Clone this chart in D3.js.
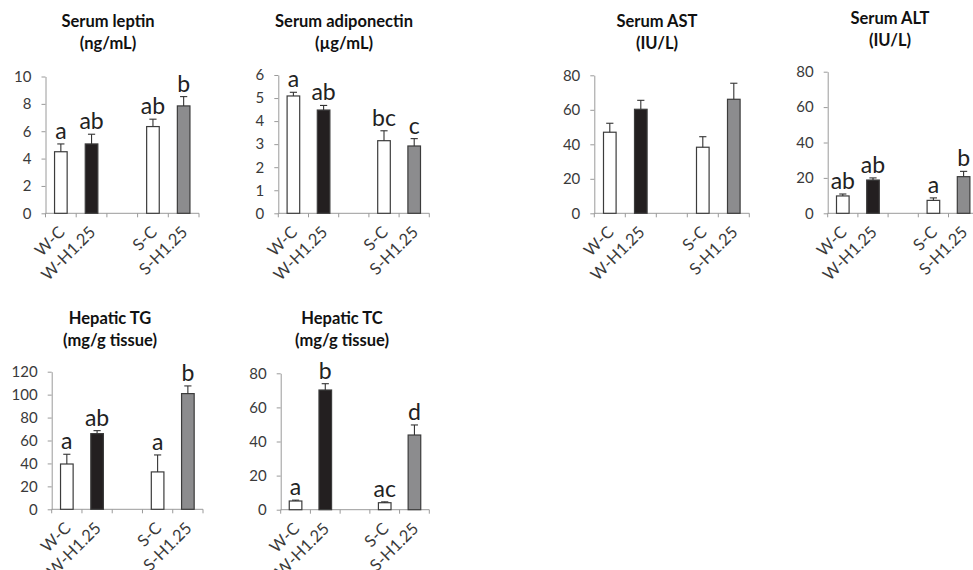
<!DOCTYPE html>
<html>
<head>
<meta charset="utf-8">
<script src="https://cdn.jsdelivr.net/npm/d3@7/dist/d3.min.js"></script>
<style>
  html, body { margin: 0; padding: 0; background: #fff; }
  svg { display: block; }
  text { font-family: Lato, "Open Sans", sans-serif; }
</style>
</head>
<body>
<svg id="chart" width="973" height="570"></svg>
<script>
// ---------- data ----------
const groups = ["W-C", "W-H1.25", "S-C", "S-H1.25"];
const slots = ["W-C", "W-H1.25", "", "S-C", "S-H1.25"];
const groupFills = ["#ffffff", "#231f20", "#ffffff", "#8c8c8e"];

const leptinMean = [4.5, 5.07, 6.34, 7.85];
const leptinSE = [0.57, 0.71, 0.54, 0.68];
const leptinLetters = ["a", "ab", "ab", "b"];
const leptinTicks = [0, 2, 4, 6, 8, 10];

const adipoMean = [5.09, 4.48, 3.15, 2.92];
const adipoSE = [0.16, 0.2, 0.43, 0.32];
const adipoLetters = ["a", "ab", "bc", "c"];
const adipoTicks = [0, 1, 2, 3, 4, 5, 6];

const astMean = [47, 60.3, 38.3, 66.1];
const astSE = [5.2, 5.2, 6.1, 9.3];
const astLetters = ["", "", "", ""];
const astTicks = [0, 20, 40, 60, 80];

const altMean = [9.8, 18.8, 7.3, 20.7];
const altSE = [1.1, 1.2, 1.4, 3.0];
const altLetters = ["ab", "ab", "a", "b"];
const altTicks = [0, 20, 40, 60, 80];

const tgMean = [39.5, 66, 32.6, 100.9];
const tgSE = [8.5, 2.6, 14.8, 6.7];
const tgLetters = ["a", "ab", "a", "b"];
const tgTicks = [0, 20, 40, 60, 80, 100, 120];

const tcMean = [5.1, 70.2, 4.1, 43.8];
const tcSE = [0.5, 3.7, 0.5, 5.9];
const tcLetters = ["a", "b", "ac", "d"];
const tcTicks = [0, 20, 40, 60, 80];

// ---------- layout ----------
const panels = [
  { title: ["Serum leptin", "(ng/mL)"], mean: leptinMean, se: leptinSE, letters: leptinLetters, ticks: leptinTicks,
    x0: 45.5, x1: 199, yb: 213.3, yt: 76.5, tx: 108, ty: 27 },
  { title: ["Serum adiponectin", "(\u00b5g/mL)"], mean: adipoMean, se: adipoSE, letters: adipoLetters, ticks: adipoTicks,
    x0: 278.3, x1: 429.3, yb: 213.3, yt: 75, tx: 344, ty: 27 },
  { title: ["Serum AST", "(IU/L)"], mean: astMean, se: astSE, letters: astLetters, ticks: astTicks,
    x0: 594.3, x1: 749.3, yb: 213.3, yt: 75.3, tx: 657, ty: 26.5 },
  { title: ["Serum ALT", "(IU/L)"], mean: altMean, se: altSE, letters: altLetters, ticks: altTicks,
    x0: 827.7, x1: 978.7, yb: 213.3, yt: 71.7, tx: 890, ty: 24 },
  { title: ["Hepatic TG", "(mg/g tissue)"], mean: tgMean, se: tgSE, letters: tgLetters, ticks: tgTicks,
    x0: 51.7, x1: 203, yb: 509.3, yt: 371.7, tx: 110, ty: 324 },
  { title: ["Hepatic TC", "(mg/g tissue)"], mean: tcMean, se: tcSE, letters: tcLetters, ticks: tcTicks,
    x0: 280.7, x1: 429.3, yb: 509.7, yt: 373.3, tx: 342, ty: 324 }
];

const svg = d3.select("#chart");
const axisColor = "#9a9a9a";
const textColor = "#3a3a3a";
const barW = 12.6;

panels.forEach(p => {
  const g = svg.append("g");
  const x = d3.scaleBand().domain(slots).range([p.x0, p.x1]).padding(0);
  const y = d3.scaleLinear().domain([0, d3.max(p.ticks)]).range([p.yb, p.yt]);

  // title
  const t = g.append("text")
    .attr("x", p.tx).attr("y", p.ty)
    .attr("text-anchor", "middle")
    .style("font-size", "16.5px").style("font-weight", "bold").attr("fill", "#111");
  p.title.forEach((line, i) => {
    t.append("tspan").attr("x", p.tx).attr("dy", i === 0 ? 0 : 22).text(line);
  });

  // y axis
  const ya = g.append("g").attr("transform", `translate(${p.x0},0)`)
    .call(d3.axisLeft(y).tickValues(p.ticks).tickSize(4).tickSizeOuter(0).tickPadding(10).tickFormat(d3.format("d")));
  ya.attr("font-size", null).attr("font-family", null);
  ya.select(".domain").attr("stroke", axisColor);
  ya.selectAll(".tick line").attr("stroke", axisColor);
  ya.selectAll(".tick text").style("font-size", "15px").attr("fill", textColor);

  // x axis
  g.append("line").attr("x1", p.x0).attr("x2", p.x1).attr("y1", p.yb).attr("y2", p.yb)
    .attr("stroke", axisColor);
  const bounds = slots.map(s => x(s)).concat([p.x1]);
  g.selectAll(".xt").data(bounds).enter().append("line")
    .attr("x1", d => d).attr("x2", d => d).attr("y1", p.yb).attr("y2", p.yb + 4)
    .attr("stroke", axisColor);
  g.selectAll(".xl").data(groups).enter().append("text")
    .attr("transform", d => `translate(${x(d) + x.bandwidth() / 2 + 5},${p.yb + 20}) rotate(-45)`)
    .attr("text-anchor", "end")
    .style("font-size", "16.5px").attr("fill", textColor)
    .text(d => d);

  // bars
  const data = groups.map((k, i) => ({ k, m: p.mean[i], s: p.se[i], l: p.letters[i], f: groupFills[i] }));
  g.selectAll(".bar").data(data).enter().append("rect")
    .attr("x", d => x(d.k) + x.bandwidth() / 2 - barW / 2)
    .attr("width", barW)
    .attr("y", d => y(d.m))
    .attr("height", d => y(0) - y(d.m))
    .attr("fill", d => d.f)
    .attr("stroke", "#3c3c3c").attr("stroke-width", 1.2);

  // error bars (upper only)
  g.selectAll(".err").data(data).enter().append("line")
    .attr("x1", d => x(d.k) + x.bandwidth() / 2).attr("x2", d => x(d.k) + x.bandwidth() / 2)
    .attr("y1", d => y(d.m)).attr("y2", d => y(d.m + d.s))
    .attr("stroke", "#333").attr("stroke-width", 1.1);
  g.selectAll(".cap").data(data).enter().append("line")
    .attr("x1", d => x(d.k) + x.bandwidth() / 2 - 3.6).attr("x2", d => x(d.k) + x.bandwidth() / 2 + 3.6)
    .attr("y1", d => y(d.m + d.s)).attr("y2", d => y(d.m + d.s))
    .attr("stroke", "#333").attr("stroke-width", 1.1);

  // significance letters
  g.selectAll(".let").data(data).enter().append("text")
    .attr("x", d => x(d.k) + x.bandwidth() / 2)
    .attr("y", d => y(d.m + d.s) - 5)
    .attr("text-anchor", "middle")
    .style("font-size", "23px").attr("fill", "#222")
    .text(d => d.l);
});
</script>
</body>
</html>
